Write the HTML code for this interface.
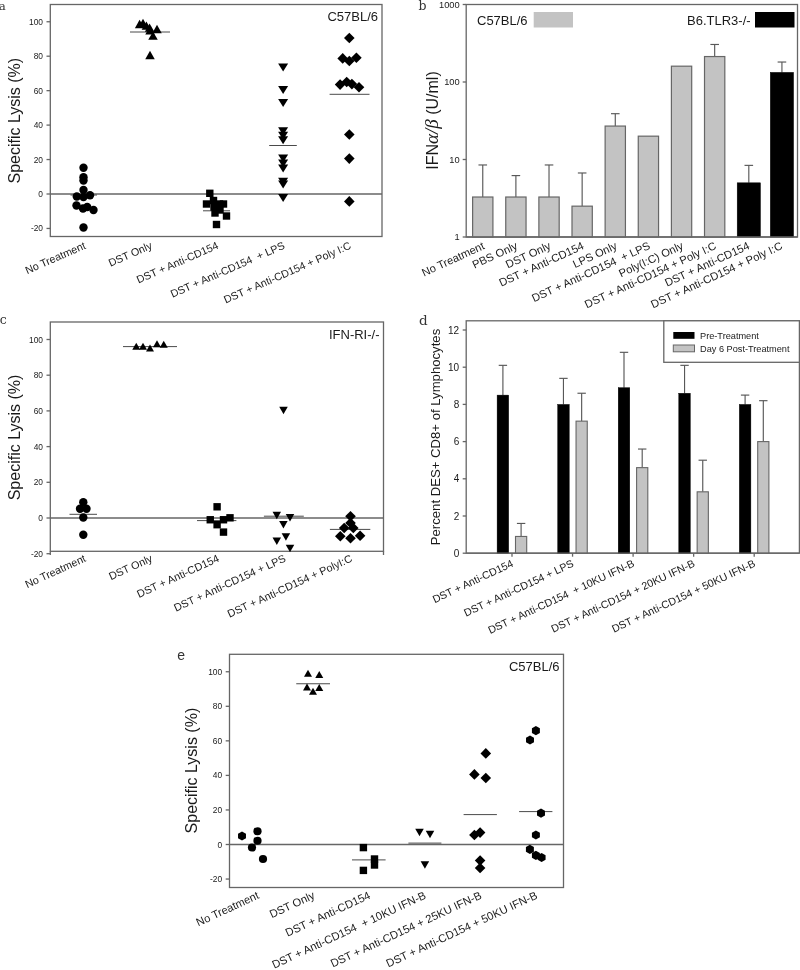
<!DOCTYPE html>
<html><head><meta charset="utf-8"><title>Figure</title>
<style>
html,body{margin:0;padding:0;background:#fff;}
svg{display:block;font-family:"Liberation Sans", Arial, sans-serif;}
text{white-space:pre;}
</style></head>
<body>
<svg width="800" height="970" viewBox="0 0 800 970">
<rect width="800" height="970" fill="#fff"/>
<rect x="50.30" y="4.50" width="331.70" height="232.00" fill="none" stroke="#666" stroke-width="1.3"/>
<line x1="46.50" y1="21.75" x2="50.30" y2="21.75" stroke="#666" stroke-width="1.3"/>
<text x="43.00" y="24.75" font-size="8.4" text-anchor="end" fill="#1a1a1a" >100</text>
<line x1="46.50" y1="56.20" x2="50.30" y2="56.20" stroke="#666" stroke-width="1.3"/>
<text x="43.00" y="59.20" font-size="8.4" text-anchor="end" fill="#1a1a1a" >80</text>
<line x1="46.50" y1="90.65" x2="50.30" y2="90.65" stroke="#666" stroke-width="1.3"/>
<text x="43.00" y="93.65" font-size="8.4" text-anchor="end" fill="#1a1a1a" >60</text>
<line x1="46.50" y1="125.10" x2="50.30" y2="125.10" stroke="#666" stroke-width="1.3"/>
<text x="43.00" y="128.10" font-size="8.4" text-anchor="end" fill="#1a1a1a" >40</text>
<line x1="46.50" y1="159.55" x2="50.30" y2="159.55" stroke="#666" stroke-width="1.3"/>
<text x="43.00" y="162.55" font-size="8.4" text-anchor="end" fill="#1a1a1a" >20</text>
<line x1="46.50" y1="194.00" x2="50.30" y2="194.00" stroke="#666" stroke-width="1.3"/>
<text x="43.00" y="197.00" font-size="8.4" text-anchor="end" fill="#1a1a1a" >0</text>
<line x1="46.50" y1="228.45" x2="50.30" y2="228.45" stroke="#666" stroke-width="1.3"/>
<text x="43.00" y="231.45" font-size="8.4" text-anchor="end" fill="#1a1a1a" >-20</text>
<line x1="50.30" y1="194.00" x2="382.00" y2="194.00" stroke="#666" stroke-width="1.4"/>
<text x="378.00" y="21.30" font-size="13" text-anchor="end" fill="#1a1a1a" >C57BL/6</text>
<text x="20.40" y="120.70" font-size="16" text-anchor="middle" fill="#1a1a1a" transform="rotate(-90 20.40 120.70)" >Specific Lysis (%)</text>
<line x1="70.50" y1="195.00" x2="97.00" y2="195.00" stroke="#4a4a4a" stroke-width="1"/>
<line x1="130.00" y1="32.00" x2="170.00" y2="32.00" stroke="#4a4a4a" stroke-width="1"/>
<line x1="203.00" y1="210.80" x2="230.00" y2="210.80" stroke="#4a4a4a" stroke-width="1"/>
<line x1="269.20" y1="145.50" x2="296.80" y2="145.50" stroke="#4a4a4a" stroke-width="1"/>
<line x1="329.60" y1="94.30" x2="369.50" y2="94.30" stroke="#4a4a4a" stroke-width="1"/>
<text x="-1.20" y="9.80" font-size="11.8" text-anchor="start" fill="#333" font-family='"DejaVu Serif", "Liberation Serif", serif' >a</text>
<circle cx="83.50" cy="167.80" r="4.2" fill="#000"/>
<circle cx="83.50" cy="177.20" r="4.2" fill="#000"/>
<circle cx="83.50" cy="180.50" r="4.2" fill="#000"/>
<circle cx="83.50" cy="190.00" r="4.2" fill="#000"/>
<circle cx="76.80" cy="196.50" r="4.2" fill="#000"/>
<circle cx="83.50" cy="197.00" r="4.2" fill="#000"/>
<circle cx="90.00" cy="195.30" r="4.2" fill="#000"/>
<circle cx="76.50" cy="205.50" r="4.2" fill="#000"/>
<circle cx="83.00" cy="208.50" r="4.2" fill="#000"/>
<circle cx="87.20" cy="207.00" r="4.2" fill="#000"/>
<circle cx="93.50" cy="210.00" r="4.2" fill="#000"/>
<circle cx="83.50" cy="227.50" r="4.2" fill="#000"/>
<polygon points="134.85,28.15 144.35,28.15 139.60,19.85" fill="#000"/>
<polygon points="138.25,27.15 147.75,27.15 143.00,18.85" fill="#000"/>
<polygon points="141.65,29.75 151.15,29.75 146.40,21.45" fill="#000"/>
<polygon points="144.85,31.75 154.35,31.75 149.60,23.45" fill="#000"/>
<polygon points="145.25,34.55 154.75,34.55 150.00,26.25" fill="#000"/>
<polygon points="148.25,39.75 157.75,39.75 153.00,31.45" fill="#000"/>
<polygon points="152.25,33.15 161.75,33.15 157.00,24.85" fill="#000"/>
<polygon points="145.25,59.15 154.75,59.15 150.00,50.85" fill="#000"/>
<rect x="206.10" y="189.60" width="7.4" height="7.4" fill="#000"/>
<rect x="202.80" y="200.30" width="7.4" height="7.4" fill="#000"/>
<rect x="209.80" y="196.80" width="7.4" height="7.4" fill="#000"/>
<rect x="215.80" y="200.30" width="7.4" height="7.4" fill="#000"/>
<rect x="219.80" y="200.30" width="7.4" height="7.4" fill="#000"/>
<rect x="210.30" y="203.30" width="7.4" height="7.4" fill="#000"/>
<rect x="211.30" y="209.30" width="7.4" height="7.4" fill="#000"/>
<rect x="216.30" y="206.30" width="7.4" height="7.4" fill="#000"/>
<rect x="222.80" y="212.30" width="7.4" height="7.4" fill="#000"/>
<rect x="212.80" y="220.80" width="7.4" height="7.4" fill="#000"/>
<polygon points="278.10,63.60 288.10,63.60 283.10,71.60" fill="#000"/>
<polygon points="278.10,85.90 288.10,85.90 283.10,93.90" fill="#000"/>
<polygon points="278.10,99.00 288.10,99.00 283.10,107.00" fill="#000"/>
<polygon points="278.10,127.30 288.10,127.30 283.10,135.30" fill="#000"/>
<polygon points="278.10,131.80 288.10,131.80 283.10,139.80" fill="#000"/>
<polygon points="278.10,136.30 288.10,136.30 283.10,144.30" fill="#000"/>
<polygon points="278.10,154.60 288.10,154.60 283.10,162.60" fill="#000"/>
<polygon points="278.10,159.40 288.10,159.40 283.10,167.40" fill="#000"/>
<polygon points="278.10,164.60 288.10,164.60 283.10,172.60" fill="#000"/>
<polygon points="278.10,177.70 288.10,177.70 283.10,185.70" fill="#000"/>
<polygon points="278.10,180.40 288.10,180.40 283.10,188.40" fill="#000"/>
<polygon points="278.10,194.00 288.10,194.00 283.10,202.00" fill="#000"/>
<polygon points="344.00,38.00 349.30,32.70 354.60,38.00 349.30,43.30" fill="#000"/>
<polygon points="337.40,58.40 342.70,53.10 348.00,58.40 342.70,63.70" fill="#000"/>
<polygon points="344.00,61.00 349.30,55.70 354.60,61.00 349.30,66.30" fill="#000"/>
<polygon points="351.10,57.80 356.40,52.50 361.70,57.80 356.40,63.10" fill="#000"/>
<polygon points="334.80,84.60 340.10,79.30 345.40,84.60 340.10,89.90" fill="#000"/>
<polygon points="341.40,82.00 346.70,76.70 352.00,82.00 346.70,87.30" fill="#000"/>
<polygon points="346.60,84.10 351.90,78.80 357.20,84.10 351.90,89.40" fill="#000"/>
<polygon points="353.70,87.20 359.00,81.90 364.30,87.20 359.00,92.50" fill="#000"/>
<polygon points="344.00,134.50 349.30,129.20 354.60,134.50 349.30,139.80" fill="#000"/>
<polygon points="344.00,158.60 349.30,153.30 354.60,158.60 349.30,163.90" fill="#000"/>
<polygon points="344.00,201.40 349.30,196.10 354.60,201.40 349.30,206.70" fill="#000"/>
<text x="86.47" y="248.20" font-size="10.7" text-anchor="end" fill="#1a1a1a" transform="rotate(-23.7 86.47 248.20)" >No Treatment</text>
<text x="152.81" y="248.20" font-size="10.7" text-anchor="end" fill="#1a1a1a" transform="rotate(-23.7 152.81 248.20)" >DST Only</text>
<text x="219.15" y="248.20" font-size="10.7" text-anchor="end" fill="#1a1a1a" transform="rotate(-23.7 219.15 248.20)" >DST + Anti-CD154</text>
<text x="285.49" y="248.20" font-size="10.7" text-anchor="end" fill="#1a1a1a" transform="rotate(-23.7 285.49 248.20)" >DST + Anti-CD154  + LPS</text>
<text x="351.83" y="248.20" font-size="10.7" text-anchor="end" fill="#1a1a1a" transform="rotate(-23.7 351.83 248.20)" >DST + Anti-CD154 + Poly I:C</text>
<rect x="50.30" y="322.00" width="333.20" height="229.30" fill="none" stroke="#666" stroke-width="1.3"/>
<line x1="46.50" y1="339.50" x2="50.30" y2="339.50" stroke="#666" stroke-width="1.3"/>
<text x="43.00" y="342.50" font-size="8.4" text-anchor="end" fill="#1a1a1a" >100</text>
<line x1="46.50" y1="375.20" x2="50.30" y2="375.20" stroke="#666" stroke-width="1.3"/>
<text x="43.00" y="378.20" font-size="8.4" text-anchor="end" fill="#1a1a1a" >80</text>
<line x1="46.50" y1="410.90" x2="50.30" y2="410.90" stroke="#666" stroke-width="1.3"/>
<text x="43.00" y="413.90" font-size="8.4" text-anchor="end" fill="#1a1a1a" >60</text>
<line x1="46.50" y1="446.60" x2="50.30" y2="446.60" stroke="#666" stroke-width="1.3"/>
<text x="43.00" y="449.60" font-size="8.4" text-anchor="end" fill="#1a1a1a" >40</text>
<line x1="46.50" y1="482.30" x2="50.30" y2="482.30" stroke="#666" stroke-width="1.3"/>
<text x="43.00" y="485.30" font-size="8.4" text-anchor="end" fill="#1a1a1a" >20</text>
<line x1="46.50" y1="518.00" x2="50.30" y2="518.00" stroke="#666" stroke-width="1.3"/>
<text x="43.00" y="521.00" font-size="8.4" text-anchor="end" fill="#1a1a1a" >0</text>
<line x1="46.50" y1="553.70" x2="50.30" y2="553.70" stroke="#666" stroke-width="1.3"/>
<text x="43.00" y="556.70" font-size="8.4" text-anchor="end" fill="#1a1a1a" >-20</text>
<line x1="50.30" y1="518.00" x2="383.50" y2="518.00" stroke="#666" stroke-width="1.4"/>
<text x="379.50" y="338.80" font-size="13" text-anchor="end" fill="#1a1a1a" >IFN-RI-/-</text>
<text x="20.00" y="437.50" font-size="16" text-anchor="middle" fill="#1a1a1a" transform="rotate(-90 20.00 437.50)" >Specific Lysis (%)</text>
<line x1="69.50" y1="514.30" x2="97.00" y2="514.30" stroke="#4a4a4a" stroke-width="1"/>
<line x1="123.00" y1="346.60" x2="177.00" y2="346.60" stroke="#4a4a4a" stroke-width="1"/>
<line x1="197.00" y1="520.60" x2="236.40" y2="520.60" stroke="#4a4a4a" stroke-width="1"/>
<line x1="263.90" y1="516.20" x2="303.80" y2="516.20" stroke="#4a4a4a" stroke-width="1"/>
<line x1="329.90" y1="529.40" x2="370.30" y2="529.40" stroke="#4a4a4a" stroke-width="1"/>
<line x1="50.30" y1="551.30" x2="50.30" y2="555.00" stroke="#666" stroke-width="1.3"/>
<line x1="383.50" y1="551.30" x2="383.50" y2="555.00" stroke="#666" stroke-width="1.3"/>
<text x="-0.30" y="324.20" font-size="12.5" text-anchor="start" fill="#333" font-family='"DejaVu Serif", "Liberation Serif", serif' >c</text>
<circle cx="83.30" cy="502.20" r="4.2" fill="#000"/>
<circle cx="80.00" cy="508.80" r="4.2" fill="#000"/>
<circle cx="86.50" cy="508.80" r="4.2" fill="#000"/>
<circle cx="83.30" cy="517.50" r="4.2" fill="#000"/>
<circle cx="83.30" cy="534.80" r="4.2" fill="#000"/>
<polygon points="132.25,349.85 140.25,349.85 136.25,342.65" fill="#000"/>
<polygon points="139.00,349.85 147.00,349.85 143.00,342.65" fill="#000"/>
<polygon points="146.00,351.60 154.00,351.60 150.00,344.40" fill="#000"/>
<polygon points="153.00,347.35 161.00,347.35 157.00,340.15" fill="#000"/>
<polygon points="159.75,347.85 167.75,347.85 163.75,340.65" fill="#000"/>
<rect x="213.40" y="503.10" width="7.4" height="7.4" fill="#000"/>
<rect x="206.55" y="516.05" width="7.4" height="7.4" fill="#000"/>
<rect x="213.40" y="521.00" width="7.4" height="7.4" fill="#000"/>
<rect x="219.80" y="516.05" width="7.4" height="7.4" fill="#000"/>
<rect x="226.30" y="514.10" width="7.4" height="7.4" fill="#000"/>
<rect x="219.80" y="528.40" width="7.4" height="7.4" fill="#000"/>
<polygon points="279.25,406.75 287.75,406.75 283.50,414.25" fill="#000"/>
<polygon points="272.55,511.85 281.05,511.85 276.80,519.35" fill="#000"/>
<polygon points="285.75,514.05 294.25,514.05 290.00,521.55" fill="#000"/>
<polygon points="279.15,520.95 287.65,520.95 283.40,528.45" fill="#000"/>
<polygon points="272.55,537.45 281.05,537.45 276.80,544.95" fill="#000"/>
<polygon points="281.65,533.25 290.15,533.25 285.90,540.75" fill="#000"/>
<polygon points="285.75,544.85 294.25,544.85 290.00,552.35" fill="#000"/>
<polygon points="345.20,516.20 350.50,510.90 355.80,516.20 350.50,521.50" fill="#000"/>
<polygon points="345.20,523.00 350.50,517.70 355.80,523.00 350.50,528.30" fill="#000"/>
<polygon points="338.90,528.00 344.20,522.70 349.50,528.00 344.20,533.30" fill="#000"/>
<polygon points="348.00,528.00 353.30,522.70 358.60,528.00 353.30,533.30" fill="#000"/>
<polygon points="335.00,536.30 340.30,531.00 345.60,536.30 340.30,541.60" fill="#000"/>
<polygon points="345.20,538.20 350.50,532.90 355.80,538.20 350.50,543.50" fill="#000"/>
<polygon points="354.80,535.70 360.10,530.40 365.40,535.70 360.10,541.00" fill="#000"/>
<text x="86.62" y="560.90" font-size="10.8" text-anchor="end" fill="#1a1a1a" transform="rotate(-24.7 86.62 560.90)" >No Treatment</text>
<text x="153.26" y="560.90" font-size="10.8" text-anchor="end" fill="#1a1a1a" transform="rotate(-24.7 153.26 560.90)" >DST Only</text>
<text x="219.90" y="560.90" font-size="10.8" text-anchor="end" fill="#1a1a1a" transform="rotate(-24.7 219.90 560.90)" >DST + Anti-CD154</text>
<text x="286.54" y="560.90" font-size="10.8" text-anchor="end" fill="#1a1a1a" transform="rotate(-24.7 286.54 560.90)" >DST + Anti-CD154 + LPS</text>
<text x="353.18" y="560.90" font-size="10.8" text-anchor="end" fill="#1a1a1a" transform="rotate(-24.7 353.18 560.90)" >DST + Anti-CD154 + PolyI:C</text>
<rect x="229.50" y="654.30" width="334.00" height="233.20" fill="none" stroke="#666" stroke-width="1.3"/>
<line x1="225.70" y1="671.75" x2="229.50" y2="671.75" stroke="#666" stroke-width="1.3"/>
<text x="222.20" y="674.75" font-size="8.4" text-anchor="end" fill="#1a1a1a" >100</text>
<line x1="225.70" y1="706.30" x2="229.50" y2="706.30" stroke="#666" stroke-width="1.3"/>
<text x="222.20" y="709.30" font-size="8.4" text-anchor="end" fill="#1a1a1a" >80</text>
<line x1="225.70" y1="740.85" x2="229.50" y2="740.85" stroke="#666" stroke-width="1.3"/>
<text x="222.20" y="743.85" font-size="8.4" text-anchor="end" fill="#1a1a1a" >60</text>
<line x1="225.70" y1="775.40" x2="229.50" y2="775.40" stroke="#666" stroke-width="1.3"/>
<text x="222.20" y="778.40" font-size="8.4" text-anchor="end" fill="#1a1a1a" >40</text>
<line x1="225.70" y1="809.95" x2="229.50" y2="809.95" stroke="#666" stroke-width="1.3"/>
<text x="222.20" y="812.95" font-size="8.4" text-anchor="end" fill="#1a1a1a" >20</text>
<line x1="225.70" y1="844.50" x2="229.50" y2="844.50" stroke="#666" stroke-width="1.3"/>
<text x="222.20" y="847.50" font-size="8.4" text-anchor="end" fill="#1a1a1a" >0</text>
<line x1="225.70" y1="879.05" x2="229.50" y2="879.05" stroke="#666" stroke-width="1.3"/>
<text x="222.20" y="882.05" font-size="8.4" text-anchor="end" fill="#1a1a1a" >-20</text>
<line x1="229.50" y1="844.50" x2="563.50" y2="844.50" stroke="#666" stroke-width="1.4"/>
<text x="559.50" y="671.10" font-size="13" text-anchor="end" fill="#1a1a1a" >C57BL/6</text>
<text x="197.40" y="770.60" font-size="16" text-anchor="middle" fill="#1a1a1a" transform="rotate(-90 197.40 770.60)" >Specific Lysis (%)</text>
<line x1="296.25" y1="683.75" x2="330.00" y2="683.75" stroke="#4a4a4a" stroke-width="1"/>
<line x1="352.00" y1="859.90" x2="385.60" y2="859.90" stroke="#4a4a4a" stroke-width="1"/>
<line x1="408.40" y1="843.10" x2="441.40" y2="843.10" stroke="#4a4a4a" stroke-width="1"/>
<line x1="463.60" y1="814.60" x2="496.90" y2="814.60" stroke="#4a4a4a" stroke-width="1"/>
<line x1="519.10" y1="811.60" x2="552.40" y2="811.60" stroke="#4a4a4a" stroke-width="1"/>
<text x="177.30" y="660.00" font-size="14" text-anchor="start" fill="#333" >e</text>
<polygon points="245.98,838.30 242.00,840.60 238.02,838.30 238.02,833.70 242.00,831.40 245.98,833.70" fill="#000"/>
<circle cx="257.50" cy="831.25" r="4.1" fill="#000"/>
<circle cx="257.50" cy="840.75" r="4.1" fill="#000"/>
<circle cx="252.00" cy="847.50" r="4.1" fill="#000"/>
<circle cx="263.00" cy="859.00" r="4.1" fill="#000"/>
<polygon points="304.00,676.85 312.00,676.85 308.00,669.65" fill="#000"/>
<polygon points="315.25,678.10 323.25,678.10 319.25,670.90" fill="#000"/>
<polygon points="303.00,690.60 311.00,690.60 307.00,683.40" fill="#000"/>
<polygon points="309.00,694.85 317.00,694.85 313.00,687.65" fill="#000"/>
<polygon points="315.25,691.10 323.25,691.10 319.25,683.90" fill="#000"/>
<rect x="359.70" y="843.90" width="7.4" height="7.4" fill="#000"/>
<rect x="370.80" y="855.30" width="7.4" height="7.4" fill="#000"/>
<rect x="370.80" y="861.30" width="7.4" height="7.4" fill="#000"/>
<rect x="359.70" y="866.70" width="7.4" height="7.4" fill="#000"/>
<polygon points="415.25,828.85 423.75,828.85 419.50,836.35" fill="#000"/>
<polygon points="425.75,830.65 434.25,830.65 430.00,838.15" fill="#000"/>
<polygon points="420.65,861.25 429.15,861.25 424.90,868.75" fill="#000"/>
<polygon points="480.50,753.40 485.80,748.10 491.10,753.40 485.80,758.70" fill="#000"/>
<polygon points="469.10,774.40 474.40,769.10 479.70,774.40 474.40,779.70" fill="#000"/>
<polygon points="480.50,778.00 485.80,772.70 491.10,778.00 485.80,783.30" fill="#000"/>
<polygon points="469.10,835.00 474.40,829.70 479.70,835.00 474.40,840.30" fill="#000"/>
<polygon points="474.80,832.60 480.10,827.30 485.40,832.60 480.10,837.90" fill="#000"/>
<polygon points="474.80,860.50 480.10,855.20 485.40,860.50 480.10,865.80" fill="#000"/>
<polygon points="474.80,868.00 480.10,862.70 485.40,868.00 480.10,873.30" fill="#000"/>
<polygon points="539.88,732.90 535.90,735.20 531.92,732.90 531.92,728.30 535.90,726.00 539.88,728.30" fill="#000"/>
<polygon points="533.98,742.30 530.00,744.60 526.02,742.30 526.02,737.70 530.00,735.40 533.98,737.70" fill="#000"/>
<polygon points="544.98,815.40 541.00,817.70 537.02,815.40 537.02,810.80 541.00,808.50 544.98,810.80" fill="#000"/>
<polygon points="539.88,837.30 535.90,839.60 531.92,837.30 531.92,832.70 535.90,830.40 539.88,832.70" fill="#000"/>
<polygon points="533.88,851.70 529.90,854.00 525.92,851.70 525.92,847.10 529.90,844.80 533.88,847.10" fill="#000"/>
<polygon points="539.88,857.70 535.90,860.00 531.92,857.70 531.92,853.10 535.90,850.80 539.88,853.10" fill="#000"/>
<polygon points="545.58,859.80 541.60,862.10 537.62,859.80 537.62,855.20 541.60,852.90 545.58,855.20" fill="#000"/>
<text x="259.83" y="898.00" font-size="11.2" text-anchor="end" fill="#1a1a1a" transform="rotate(-24.9 259.83 898.00)" >No Treatment</text>
<text x="315.50" y="898.00" font-size="11.2" text-anchor="end" fill="#1a1a1a" transform="rotate(-24.9 315.50 898.00)" >DST Only</text>
<text x="371.18" y="898.00" font-size="11.2" text-anchor="end" fill="#1a1a1a" transform="rotate(-24.9 371.18 898.00)" >DST + Anti-CD154</text>
<text x="426.85" y="898.00" font-size="11.2" text-anchor="end" fill="#1a1a1a" transform="rotate(-24.9 426.85 898.00)" >DST + Anti-CD154  + 10KU IFN-B</text>
<text x="482.51" y="898.00" font-size="11.2" text-anchor="end" fill="#1a1a1a" transform="rotate(-24.9 482.51 898.00)" >DST + Anti-CD154 + 25KU IFN-B</text>
<text x="538.18" y="898.00" font-size="11.2" text-anchor="end" fill="#1a1a1a" transform="rotate(-24.9 538.18 898.00)" >DST + Anti-CD154 + 50KU IFN-B</text>
<rect x="466.20" y="4.50" width="331.30" height="232.50" fill="none" stroke="#666" stroke-width="1.3"/>
<line x1="462.70" y1="237.00" x2="466.20" y2="237.00" stroke="#666" stroke-width="1.3"/>
<text x="459.70" y="240.30" font-size="9.3" text-anchor="end" fill="#1a1a1a" >1</text>
<line x1="462.70" y1="159.50" x2="466.20" y2="159.50" stroke="#666" stroke-width="1.3"/>
<text x="459.70" y="162.80" font-size="9.3" text-anchor="end" fill="#1a1a1a" >10</text>
<line x1="462.70" y1="82.00" x2="466.20" y2="82.00" stroke="#666" stroke-width="1.3"/>
<text x="459.70" y="85.30" font-size="9.3" text-anchor="end" fill="#1a1a1a" >100</text>
<line x1="462.70" y1="4.50" x2="466.20" y2="4.50" stroke="#666" stroke-width="1.3"/>
<text x="459.70" y="7.80" font-size="9.3" text-anchor="end" fill="#1a1a1a" >1000</text>
<text x="418.50" y="9.80" font-size="12.5" text-anchor="start" fill="#333" font-family='"DejaVu Serif", "Liberation Serif", serif' >b</text>
<text transform="rotate(-90 438.3 120.5)" x="438.3" y="120.5" font-size="16" text-anchor="middle" fill="#1a1a1a">IFN<tspan font-family='"Liberation Serif", serif' font-style="italic" font-size="19">α/β</tspan> (U/ml)</text>
<line x1="482.76" y1="164.97" x2="482.76" y2="197.02" stroke="#585858" stroke-width="1.15"/>
<line x1="478.46" y1="164.97" x2="487.06" y2="164.97" stroke="#585858" stroke-width="1.15"/>
<rect x="472.62" y="197.02" width="20.30" height="39.98" fill="#c3c3c3" stroke="#666" stroke-width="1.2"/>
<line x1="515.89" y1="175.59" x2="515.89" y2="197.02" stroke="#585858" stroke-width="1.15"/>
<line x1="511.59" y1="175.59" x2="520.19" y2="175.59" stroke="#585858" stroke-width="1.15"/>
<rect x="505.75" y="197.02" width="20.30" height="39.98" fill="#c3c3c3" stroke="#666" stroke-width="1.2"/>
<line x1="549.02" y1="164.97" x2="549.02" y2="197.02" stroke="#585858" stroke-width="1.15"/>
<line x1="544.73" y1="164.97" x2="553.32" y2="164.97" stroke="#585858" stroke-width="1.15"/>
<rect x="538.88" y="197.02" width="20.30" height="39.98" fill="#c3c3c3" stroke="#666" stroke-width="1.2"/>
<line x1="582.15" y1="172.98" x2="582.15" y2="206.16" stroke="#585858" stroke-width="1.15"/>
<line x1="577.86" y1="172.98" x2="586.45" y2="172.98" stroke="#585858" stroke-width="1.15"/>
<rect x="572.00" y="206.16" width="20.30" height="30.84" fill="#c3c3c3" stroke="#666" stroke-width="1.2"/>
<line x1="615.28" y1="113.69" x2="615.28" y2="126.07" stroke="#585858" stroke-width="1.15"/>
<line x1="610.99" y1="113.69" x2="619.58" y2="113.69" stroke="#585858" stroke-width="1.15"/>
<rect x="605.13" y="126.07" width="20.30" height="110.93" fill="#c3c3c3" stroke="#666" stroke-width="1.2"/>
<rect x="638.26" y="136.17" width="20.30" height="100.83" fill="#c3c3c3" stroke="#666" stroke-width="1.2"/>
<rect x="671.40" y="66.18" width="20.30" height="170.82" fill="#c3c3c3" stroke="#666" stroke-width="1.2"/>
<line x1="714.67" y1="44.47" x2="714.67" y2="56.55" stroke="#585858" stroke-width="1.15"/>
<line x1="710.38" y1="44.47" x2="718.97" y2="44.47" stroke="#585858" stroke-width="1.15"/>
<rect x="704.52" y="56.55" width="20.30" height="180.45" fill="#c3c3c3" stroke="#666" stroke-width="1.2"/>
<line x1="748.81" y1="165.37" x2="748.81" y2="182.83" stroke="#585858" stroke-width="1.15"/>
<line x1="744.51" y1="165.37" x2="753.11" y2="165.37" stroke="#585858" stroke-width="1.15"/>
<rect x="737.21" y="182.83" width="23.20" height="54.17" fill="#000" stroke="#000" stroke-width="0.5"/>
<line x1="781.93" y1="62.03" x2="781.93" y2="72.40" stroke="#585858" stroke-width="1.15"/>
<line x1="777.63" y1="62.03" x2="786.23" y2="62.03" stroke="#585858" stroke-width="1.15"/>
<rect x="770.33" y="72.40" width="23.20" height="164.60" fill="#000" stroke="#000" stroke-width="0.5"/>
<line x1="466.20" y1="237.00" x2="797.50" y2="237.00" stroke="#666" stroke-width="1.3"/>
<text x="477.00" y="25.00" font-size="13" text-anchor="start" fill="#1a1a1a" >C57BL/6</text>
<rect x="533.7" y="12" width="39.3" height="15.5" fill="#c3c3c3"/>
<text x="687.00" y="25.00" font-size="13" text-anchor="start" fill="#1a1a1a" >B6.TLR3-/-</text>
<rect x="755" y="12" width="39.5" height="15.5" fill="#000"/>
<text x="485.26" y="248.50" font-size="11.15" text-anchor="end" fill="#1a1a1a" transform="rotate(-24.7 485.26 248.50)" >No Treatment</text>
<text x="518.39" y="248.50" font-size="11.15" text-anchor="end" fill="#1a1a1a" transform="rotate(-24.7 518.39 248.50)" >PBS Only</text>
<text x="551.52" y="248.50" font-size="11.15" text-anchor="end" fill="#1a1a1a" transform="rotate(-24.7 551.52 248.50)" >DST Only</text>
<text x="584.65" y="248.50" font-size="11.15" text-anchor="end" fill="#1a1a1a" transform="rotate(-24.7 584.65 248.50)" >DST + Anti-CD154</text>
<text x="617.78" y="248.50" font-size="11.15" text-anchor="end" fill="#1a1a1a" transform="rotate(-24.7 617.78 248.50)" >LPS Only</text>
<text x="650.91" y="248.50" font-size="11.15" text-anchor="end" fill="#1a1a1a" transform="rotate(-24.7 650.91 248.50)" >DST + Anti-CD154  + LPS</text>
<text x="684.05" y="248.50" font-size="11.15" text-anchor="end" fill="#1a1a1a" transform="rotate(-24.7 684.05 248.50)" >Poly(I:C) Only</text>
<text x="717.17" y="248.50" font-size="11.15" text-anchor="end" fill="#1a1a1a" transform="rotate(-24.7 717.17 248.50)" >DST + Anti-CD154 + Poly I:C</text>
<text x="750.31" y="248.50" font-size="11.15" text-anchor="end" fill="#1a1a1a" transform="rotate(-24.7 750.31 248.50)" >DST + Anti-CD154</text>
<text x="783.43" y="248.50" font-size="11.15" text-anchor="end" fill="#1a1a1a" transform="rotate(-24.7 783.43 248.50)" >DST + Anti-CD154 + Poly I:C</text>
<rect x="466.20" y="320.80" width="333.20" height="232.40" fill="none" stroke="#666" stroke-width="1.3"/>
<line x1="462.70" y1="553.20" x2="466.20" y2="553.20" stroke="#666" stroke-width="1.3"/>
<text x="459.20" y="556.70" font-size="10" text-anchor="end" fill="#1a1a1a" >0</text>
<line x1="462.70" y1="516.00" x2="466.20" y2="516.00" stroke="#666" stroke-width="1.3"/>
<text x="459.20" y="519.50" font-size="10" text-anchor="end" fill="#1a1a1a" >2</text>
<line x1="462.70" y1="478.80" x2="466.20" y2="478.80" stroke="#666" stroke-width="1.3"/>
<text x="459.20" y="482.30" font-size="10" text-anchor="end" fill="#1a1a1a" >4</text>
<line x1="462.70" y1="441.60" x2="466.20" y2="441.60" stroke="#666" stroke-width="1.3"/>
<text x="459.20" y="445.10" font-size="10" text-anchor="end" fill="#1a1a1a" >6</text>
<line x1="462.70" y1="404.40" x2="466.20" y2="404.40" stroke="#666" stroke-width="1.3"/>
<text x="459.20" y="407.90" font-size="10" text-anchor="end" fill="#1a1a1a" >8</text>
<line x1="462.70" y1="367.20" x2="466.20" y2="367.20" stroke="#666" stroke-width="1.3"/>
<text x="459.20" y="370.70" font-size="10" text-anchor="end" fill="#1a1a1a" >10</text>
<line x1="462.70" y1="330.00" x2="466.20" y2="330.00" stroke="#666" stroke-width="1.3"/>
<text x="459.20" y="333.50" font-size="10" text-anchor="end" fill="#1a1a1a" >12</text>
<text x="419.00" y="324.50" font-size="13.5" text-anchor="start" fill="#333" font-family='"DejaVu Serif", "Liberation Serif", serif' >d</text>
<text x="440.00" y="437.00" font-size="13.15" text-anchor="middle" fill="#1a1a1a" transform="rotate(-90 440.00 437.00)" >Percent DES+ CD8+ of Lymphocytes</text>
<line x1="512.00" y1="553.20" x2="512.00" y2="556.70" stroke="#666" stroke-width="1.3"/>
<line x1="502.90" y1="365.34" x2="502.90" y2="395.10" stroke="#585858" stroke-width="1.15"/>
<line x1="498.70" y1="365.34" x2="507.10" y2="365.34" stroke="#585858" stroke-width="1.15"/>
<rect x="497.10" y="395.10" width="11.60" height="158.10" fill="#000" stroke="#000" stroke-width="0.4"/>
<line x1="521.10" y1="523.44" x2="521.10" y2="536.46" stroke="#585858" stroke-width="1.15"/>
<line x1="516.90" y1="523.44" x2="525.30" y2="523.44" stroke="#585858" stroke-width="1.15"/>
<rect x="515.50" y="536.46" width="11.20" height="16.74" fill="#c3c3c3" stroke="#666" stroke-width="1.1"/>
<line x1="572.55" y1="553.20" x2="572.55" y2="556.70" stroke="#666" stroke-width="1.3"/>
<line x1="563.45" y1="378.36" x2="563.45" y2="404.40" stroke="#585858" stroke-width="1.15"/>
<line x1="559.25" y1="378.36" x2="567.65" y2="378.36" stroke="#585858" stroke-width="1.15"/>
<rect x="557.65" y="404.40" width="11.60" height="148.80" fill="#000" stroke="#000" stroke-width="0.4"/>
<line x1="581.65" y1="393.24" x2="581.65" y2="421.14" stroke="#585858" stroke-width="1.15"/>
<line x1="577.45" y1="393.24" x2="585.85" y2="393.24" stroke="#585858" stroke-width="1.15"/>
<rect x="576.05" y="421.14" width="11.20" height="132.06" fill="#c3c3c3" stroke="#666" stroke-width="1.1"/>
<line x1="633.10" y1="553.20" x2="633.10" y2="556.70" stroke="#666" stroke-width="1.3"/>
<line x1="624.00" y1="352.32" x2="624.00" y2="387.66" stroke="#585858" stroke-width="1.15"/>
<line x1="619.80" y1="352.32" x2="628.20" y2="352.32" stroke="#585858" stroke-width="1.15"/>
<rect x="618.20" y="387.66" width="11.60" height="165.54" fill="#000" stroke="#000" stroke-width="0.4"/>
<line x1="642.20" y1="449.04" x2="642.20" y2="467.64" stroke="#585858" stroke-width="1.15"/>
<line x1="638.00" y1="449.04" x2="646.40" y2="449.04" stroke="#585858" stroke-width="1.15"/>
<rect x="636.60" y="467.64" width="11.20" height="85.56" fill="#c3c3c3" stroke="#666" stroke-width="1.1"/>
<line x1="693.65" y1="553.20" x2="693.65" y2="556.70" stroke="#666" stroke-width="1.3"/>
<line x1="684.55" y1="365.34" x2="684.55" y2="393.24" stroke="#585858" stroke-width="1.15"/>
<line x1="680.35" y1="365.34" x2="688.75" y2="365.34" stroke="#585858" stroke-width="1.15"/>
<rect x="678.75" y="393.24" width="11.60" height="159.96" fill="#000" stroke="#000" stroke-width="0.4"/>
<line x1="702.75" y1="460.20" x2="702.75" y2="491.82" stroke="#585858" stroke-width="1.15"/>
<line x1="698.55" y1="460.20" x2="706.95" y2="460.20" stroke="#585858" stroke-width="1.15"/>
<rect x="697.15" y="491.82" width="11.20" height="61.38" fill="#c3c3c3" stroke="#666" stroke-width="1.1"/>
<line x1="754.20" y1="553.20" x2="754.20" y2="556.70" stroke="#666" stroke-width="1.3"/>
<line x1="745.10" y1="395.10" x2="745.10" y2="404.40" stroke="#585858" stroke-width="1.15"/>
<line x1="740.90" y1="395.10" x2="749.30" y2="395.10" stroke="#585858" stroke-width="1.15"/>
<rect x="739.30" y="404.40" width="11.60" height="148.80" fill="#000" stroke="#000" stroke-width="0.4"/>
<line x1="763.30" y1="400.68" x2="763.30" y2="441.60" stroke="#585858" stroke-width="1.15"/>
<line x1="759.10" y1="400.68" x2="767.50" y2="400.68" stroke="#585858" stroke-width="1.15"/>
<rect x="757.70" y="441.60" width="11.20" height="111.60" fill="#c3c3c3" stroke="#666" stroke-width="1.1"/>
<line x1="466.20" y1="553.20" x2="799.40" y2="553.20" stroke="#666" stroke-width="1.3"/>
<rect x="663.80" y="320.80" width="135.60" height="41.50" fill="#fff" stroke="#666" stroke-width="1.3"/>
<rect x="673.3" y="332" width="21.2" height="6.8" fill="#000"/>
<rect x="673.30" y="345.00" width="21.20" height="6.80" fill="#c3c3c3" stroke="#666" stroke-width="1"/>
<text x="700.00" y="338.80" font-size="9.2" text-anchor="start" fill="#1a1a1a" >Pre-Treatment</text>
<text x="700.00" y="351.60" font-size="9.2" text-anchor="start" fill="#1a1a1a" >Day 6 Post-Treatment</text>
<text x="514.00" y="566.00" font-size="10.65" text-anchor="end" fill="#1a1a1a" transform="rotate(-25.1 514.00 566.00)" >DST + Anti-CD154</text>
<text x="574.55" y="566.00" font-size="10.65" text-anchor="end" fill="#1a1a1a" transform="rotate(-25.1 574.55 566.00)" >DST + Anti-CD154 + LPS</text>
<text x="635.10" y="566.00" font-size="10.65" text-anchor="end" fill="#1a1a1a" transform="rotate(-25.1 635.10 566.00)" >DST + Anti-CD154  + 10KU IFN-B</text>
<text x="695.65" y="566.00" font-size="10.65" text-anchor="end" fill="#1a1a1a" transform="rotate(-25.1 695.65 566.00)" >DST + Anti-CD154 + 20KU IFN-B</text>
<text x="756.20" y="566.00" font-size="10.65" text-anchor="end" fill="#1a1a1a" transform="rotate(-25.1 756.20 566.00)" >DST + Anti-CD154 + 50KU IFN-B</text>
</svg>
</body></html>
